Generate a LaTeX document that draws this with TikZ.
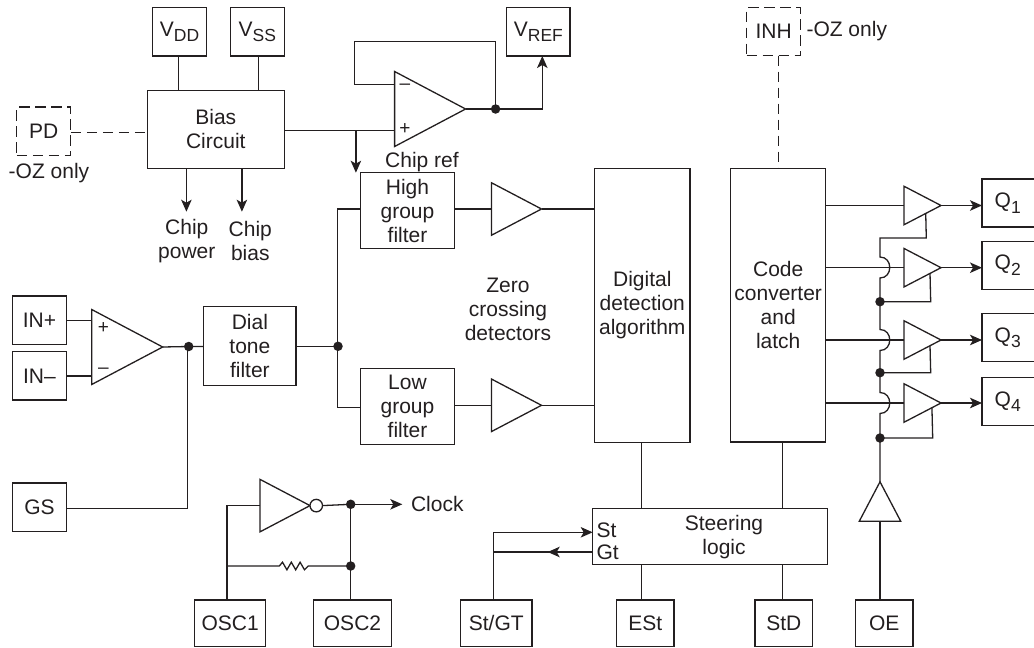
\documentclass[tikz,border=0pt]{standalone}
\usepackage{fontspec}
\setmainfont{Liberation Sans}
\usetikzlibrary{shapes.geometric,arrows.meta,calc}
\definecolor{ink}{HTML}{231F20}
\newcommand{\sbs}[1]{\raisebox{-5.5pt}{\fontsize{17.5}{20}\selectfont #1}}
\tikzset{
  x=1pt,y=-1pt,
  every node/.style={text=ink,font=\fontsize{21}{24}\selectfont,inner sep=0pt,outer sep=0pt,align=center},
  wire/.style={draw=ink,line width=1.3pt},
  dashwire/.style={wire,dash pattern=on 10.5pt off 5.5pt},
  arrowwire/.style={wire,-{Stealth[length=12pt,width=10.5pt,inset=3pt]}},
  boxn/.style={draw=ink,line width=1.3pt},
  dashbox/.style={boxn,dash pattern=on 10.5pt off 5.5pt},
  qbox/.style={boxn,minimum width=58pt,minimum height=48.2pt},
  dotn/.style={circle,fill=ink,minimum size=9.5pt},
  ringn/.style={circle,draw=ink,line width=1.3pt,fill=white,minimum size=12.5pt},
  trin/.style={draw=ink,line width=1.3pt,isosceles triangle,isosceles triangle stretches,anchor=lower side},
  smallbuf/.style={trin,minimum height=37pt,minimum width=38.5pt},
  midbuf/.style={trin,minimum height=50pt,minimum width=52.5pt},
  opamp/.style={trin,minimum height=71pt,minimum width=75pt},
  signn/.style={font=\fontsize{19}{20}\selectfont},
}
\begin{document}
\begin{tikzpicture}
\useasboundingbox (0,0) rectangle (1034,648);
\clip (0,0) rectangle (1034,648);
% pin boxes
\node[boxn,minimum width=54.3pt,minimum height=48.5pt] (vdd) at (179.5,31.8) {V\sbs{DD}};
\node[boxn,minimum width=54pt,minimum height=48.5pt] (vss) at (257.4,31.8) {V\sbs{SS}};
\node[boxn,minimum width=63.3pt,minimum height=48.5pt] (vref) at (538.4,31.8) {V\sbs{REF}};
\node[dashbox,minimum width=54pt,minimum height=48.7pt] (pd) at (43.8,131.3) {PD};
\node (pdnote) at (49,173.3) {-OZ only};
\node[dashbox,minimum width=54pt,minimum height=48pt] (inh) at (773.7,31.7) {INH};
\node[anchor=west] (inhnote) at (806.5,31) {-OZ only};
\node[boxn,minimum width=53.6pt,minimum height=48.3pt] (inp) at (39.5,320.2) {IN+};
\node[boxn,minimum width=53.6pt,minimum height=48.3pt] (inm) at (39.5,375.9) {IN–};
\node[boxn,minimum width=53.6pt,minimum height=48.3pt] (gs) at (39.5,507.2) {GS};
\node[boxn,minimum width=71pt,minimum height=46.7pt] (osc1) at (230.2,623.3) {OSC1};
\node[boxn,minimum width=77.6pt,minimum height=46.7pt] (osc2) at (352.5,623.3) {OSC2};
\node[boxn,minimum width=71.3pt,minimum height=46.7pt] (stgt) at (496.3,623.3) {St/GT};
\node[boxn,minimum width=57.7pt,minimum height=46.7pt] (est) at (645.2,623.3) {ESt};
\node[boxn,minimum width=57.7pt,minimum height=46.7pt] (std) at (783.8,623.3) {StD};
\node[boxn,minimum width=57.7pt,minimum height=46.7pt] (oe) at (884.2,623.3) {OE};
\node[qbox] (q1) at (1011,203) {Q\sbs{1}\hspace*{6.6pt}};
\node[qbox] (q2) at (1011,265.3) {Q\sbs{2}\hspace*{6.6pt}};
\node[qbox] (q3) at (1011,337.5) {Q\sbs{3}\hspace*{6.6pt}};
\node[qbox] (q4) at (1011,401.5) {Q\sbs{4}\hspace*{6.6pt}};
% function blocks
\node[boxn,minimum width=137pt,minimum height=78pt] (bias) at (215.8,129.3) {Bias\\Circuit};
\node[boxn,minimum width=94.1pt,minimum height=76pt] (high) at (407.5,210.7) {High\\group\\filter};
\node[boxn,minimum width=94.1pt,minimum height=76pt] (low) at (407.5,406.7) {Low\\group\\filter};
\node[boxn,minimum width=92.3pt,minimum height=78.6pt] (dial) at (249.9,346) {Dial\\tone\\filter};
\node[boxn,minimum width=95.3pt,minimum height=273.6pt] (digital) at (642.3,305.5) {Digital\\detection\\algorithm};
\node[boxn,minimum width=95pt,minimum height=273.4pt] (code) at (778.2,305.4) {Code\\converter\\and\\latch};
\node[boxn,minimum width=234.6pt,minimum height=56pt] (steer) at (710,536.3) {};
\node (steerlabel) at (724,537) {Steering\\logic};
\node[anchor=west] (stl) at (596.5,530) {St};
\node[anchor=west] (gtl) at (596.5,552.5) {Gt};
% free labels
\node (chipp) at (186.8,241) {Chip\\power};
\node (chipb) at (250.3,241) {Chip\\bias};
\node (chipref) at (422,161.7) {Chip ref};
\node (zero) at (508,309) {Zero\\crossing\\detectors};
\node[anchor=west] (clock) at (411,504) {Clock};
% amplifiers
\node[opamp] (opa) at (394.6,109) {};
\node[signn] (opap) at (404.9,129) {+};
\node[signn] (opam) at (404.9,87) {–};
\node[opamp] (opb) at (91.7,347) {};
\node[signn] (opbp) at (103.3,328.3) {+};
\node[signn] (opbm) at (103.3,370.7) {–};
\node[midbuf] (bufh) at (491.5,209) {};
\node[midbuf] (bufl) at (491.5,405.3) {};
\node[smallbuf] (b1) at (904,205.5) {};
\node[smallbuf] (b2) at (904,267.7) {};
\node[smallbuf] (b3) at (904,340) {};
\node[smallbuf] (b4) at (904,403) {};
\node[trin,shape border rotate=90,minimum width=41.5pt,minimum height=39.5pt] (bufoe) at (880,521.3) {};
\node[trin,minimum height=50pt,minimum width=52.5pt] (inv) at (260,505.6) {};
\node[ringn,anchor=west] (ring) at (inv.apex) {};
% junction dots
\node[dotn] (d1) at (495.6,109) {};
\node[dotn] (d2) at (188.7,346.5) {};
\node[dotn] (d3) at (338,346.3) {};
\node[dotn] (d4) at (350.7,504.3) {};
\node[dotn] (d5) at (350.7,566) {};
\node[dotn] (d6) at (880,301.7) {};
\node[dotn] (d7) at (880,372.7) {};
\node[dotn] (d8) at (880,438) {};
% helper points
\coordinate (fb) at (394.6,84.7);
\coordinate (fbc) at (354.8,41.3);
\coordinate (oa) at (394.6,130.3);
\coordinate (br) at (355.9,130.3);
\coordinate (oscj) at (227,566);
\coordinate (stj) at (493.7,552);
\coordinate (bus) at (880,238);
% power and references
\draw[wire] (178.3,56) -- (178.3,90.3);
\draw[wire] (258.7,56) -- (258.7,90.3);
\draw[dashwire] (pd.east |- 0,132.7) -- (bias.west |- 0,132.7);
\draw[wire] (bias.east |- oa) -- (oa);
\draw[arrowwire] (br) -- (br |- high.north);
\draw[arrowwire] (186.4,168.3) -- (186.4,211.7);
\draw[arrowwire] (241.9,168.3) -- (241.9,211.7);
\draw[wire] (fb) -- (fb -| fbc) -- (fbc) -- (d1.center |- fbc) -- (d1.center);
\draw[wire] (opa.apex) -- (d1);
\draw[arrowwire] (d1.center) -- (542.3,109) -- (542.3,56);
% input chain
\draw[wire] (inp.east |- 0,320.7) -- (91.7,320.7);
\draw[wire] (inm.east |- 0,376) -- (91.7,376);
\draw[wire] (opb.apex) -- (d2.center) -- (dial.west |- d2);
\draw[wire] (gs.east |- 0,508.7) -- (187.7,508.7) -- (187.7,346.5);
\draw[wire] (dial.east |- d3) -- (d3.center);
\draw[wire] (high.west |- bufh) -- (337.5,209) -- (337.5,407.7) -- (low.west |- 0,407.7);
\draw[wire] (high.east |- bufh) -- (bufh.lower side);
\draw[wire] (low.east |- bufl) -- (bufl.lower side);
\draw[wire] (bufh.apex) -- (digital.west |- bufh.apex);
\draw[wire] (bufl.apex) -- (digital.west |- bufl.apex);
% lower links
\draw[wire] (641.7,442.1) -- (641.7,508.3);
\draw[wire] (782.7,442.1) -- (782.7,508.3);
\draw[wire] (641.7,564.3) -- (641.7,600);
\draw[wire] (782.7,564.3) -- (782.7,600);
\draw[dashwire] (778.3,55.7) -- (778.3,168.7);
\draw[arrowwire] (stj) -- (493.7,532.3) -- (steer.west |- 0,532.3);
\draw[wire] (493.7,600) -- (stj) -- (steer.west |- stj);
\draw[wire,-{Stealth[length=12pt,width=10.5pt,inset=3pt]}] (steer.west |- stj) -- (547.7,552);
% oscillator
\draw[wire] (ring.east) -- (d4.center);
\draw[arrowwire] (d4.center) -- (402.3,504.3);
\draw[wire] (d4.center) -- (d5.center) -- (350.7,600);
\draw[wire] (227,600) -- (oscj) -- (227,505.6) -- (inv.lower side);
\draw[wire,line join=miter] (oscj) -- (279.3,566) -- ++(3.2,-3.8) -- ++(4.4,7.6) -- ++(4.4,-7.6) -- ++(4.4,7.6) -- ++(4.4,-7.6) -- ++(4.4,7.6) -- (308.3,566) -- (d5.center);
% output stage
\foreach \n/\r in {1/q1,2/q2,3/q3,4/q4}{
  \draw[wire] (code.east |- b\n.apex) -- (b\n.lower side);
  \draw[arrowwire] (b\n.apex) -- (b\n.apex -| \r.west);
}
\draw[wire] ($(b1.apex)!0.413!(b1.right corner)$) -- (926.3,238) -- (bus) -- (880,257)
  .. controls (893,257) and (893,278) .. (880,278) -- (d6.center) -- (880,329.5)
  .. controls (893,329.5) and (893,350.5) .. (880,350.5) -- (d7.center) -- (880,392.5)
  .. controls (893,392.5) and (893,413.5) .. (880,413.5) -- (d8.center) -- (bufoe.apex);
\draw[wire] (d6.center) -- (930.7,301.7) -- ($(b2.apex)!0.297!(b2.right corner)$);
\draw[wire] (d7.center) -- (930.7,372.7) -- ($(b3.apex)!0.297!(b3.right corner)$);
\draw[wire] (d8.center) -- (932.7,438) -- ($(b4.apex)!0.245!(b4.right corner)$);
\draw[wire] (bufoe.lower side) -- (880,600);
\end{tikzpicture}
\end{document}
